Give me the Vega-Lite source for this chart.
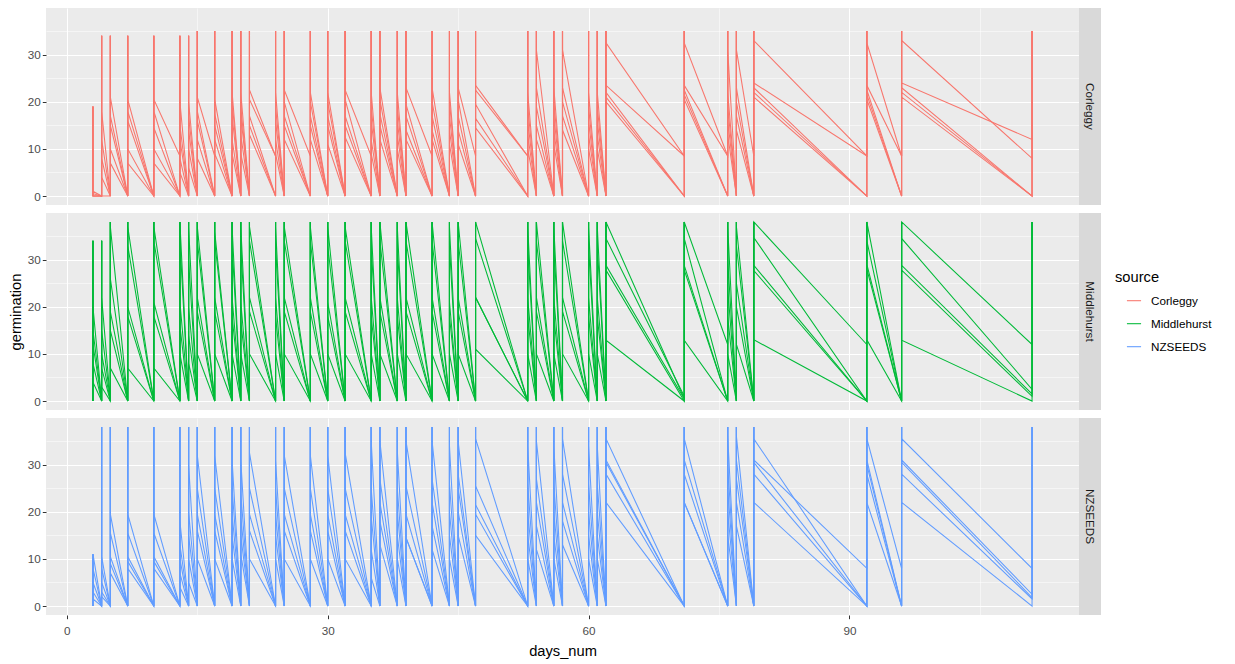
{
"$schema": "https://vega.github.io/schema/vega-lite/v6.json",
"padding": {"left": 8, "top": 8, "right": 5, "bottom": 5},
"config": {
 "font": "Liberation Sans",
 "view": {"fill": "#EBEBEB", "stroke": null},
 "axis": {"domain": false, "gridColor": "#FFFFFF", "tickColor": "#333333", "labelColor": "#4D4D4D", "labelFontSize": 11.7, "titleFontSize": 14.7, "titleFontWeight": "normal", "titleColor": "#000000", "tickSize": 3.7, "labelPadding": 2, "labelFlush": false, "labelOverlap": false},
 "legend": {"orient": "none", "legendX": 1069, "legendY": 262, "titleFontSize": 14.7, "titleFontWeight": "normal", "titleColor": "#000000", "labelFontSize": 11.7, "labelColor": "#000000", "symbolType": "stroke", "symbolStrokeWidth": 1.07, "symbolSize": 200, "symbolOffset": 11, "rowPadding": 8, "labelOffset": 9, "titlePadding": 8}
},
"datasets": {
 "d": [
  {"s":"Corleggy","x":3,"t":19,"g":[1,2,3,4,5],"a":[0,0,0,0,0],"c":[1,0.5,0,0,0]},
  {"s":"Corleggy","x":4,"t":34,"g":[1,2,3,4,5],"a":[0,0,0,0,0],"c":[18,12,8,4,0]},
  {"s":"Corleggy","x":5,"t":34,"g":[1,2,3,4,5],"a":[0,0,0,0,0],"c":[21,17,15,10,7]},
  {"s":"Corleggy","x":7,"t":34,"g":[1,2,3,4,5],"a":[0,0,0,0,0],"c":[20.5,18,16,10,7]},
  {"s":"Corleggy","x":10,"t":34,"g":[1,2,3,4,5],"a":[0,0,0,0,0],"c":[20.5,18,14.5,10,7]},
  {"s":"Corleggy","x":13,"t":34,"g":[1,2,3,4,5],"a":[8.5,0,0,0,0],"c":[20,15,12,8,5]},
  {"s":"Corleggy","x":14,"t":34,"g":[1,2,3,4,5],"a":[0,0,0,0,0],"c":[20,17,14,10,6]},
  {"s":"Corleggy","x":15,"t":35,"g":[1,2,3,4,5],"a":[0,0,0,0,0],"c":[21,18,16,12,8]},
  {"s":"Corleggy","x":17,"t":35,"g":[1,2,3,4,5],"a":[8.5,0,0,0,0],"c":[20.5,17.5,15,12,9]},
  {"s":"Corleggy","x":19,"t":35,"g":[1,2,3,4,5],"a":[0,0,0,0,0],"c":[22,20,17,12,9]},
  {"s":"Corleggy","x":20,"t":35,"g":[1,2,3,4,5],"a":[0,0,0,0,0],"c":[22,19,17,13,9]},
  {"s":"Corleggy","x":21,"t":35,"g":[1,2,3,4,5],"a":[0,0,0,0,0],"c":[22.5,20.5,17,15,13]},
  {"s":"Corleggy","x":24,"t":35,"g":[1,2,3,4,5],"a":[8.5,8.5,0,0,0],"c":[22,19,16,12,9]},
  {"s":"Corleggy","x":25,"t":35,"g":[1,2,3,4,5],"a":[0,0,0,0,0],"c":[22.5,20,17,15,12]},
  {"s":"Corleggy","x":28,"t":35,"g":[1,2,3,4,5],"a":[8.5,0,0,0,0],"c":[22,20,17,15,12]},
  {"s":"Corleggy","x":30,"t":35,"g":[1,2,3,4,5],"a":[0,0,0,0,0],"c":[22,20,17,15,11]},
  {"s":"Corleggy","x":32,"t":35,"g":[1,2,3,4,5],"a":[0,0,0,0,0],"c":[22.5,20.5,17,15,12.5]},
  {"s":"Corleggy","x":35,"t":35,"g":[1,2,3,4,5],"a":[8.5,0,0,0,0],"c":[22,19,16,12,9]},
  {"s":"Corleggy","x":36,"t":35,"g":[1,2,3,4,5],"a":[0,0,0,0,0],"c":[23,20.5,17.5,15,12]},
  {"s":"Corleggy","x":38,"t":35,"g":[1,2,3,4,5],"a":[0,0,0,0,0],"c":[22,19,16,13,10]},
  {"s":"Corleggy","x":39,"t":35,"g":[1,2,3,4,5],"a":[0,0,0,0,0],"c":[23,19.5,17,14,12]},
  {"s":"Corleggy","x":42,"t":35,"g":[1,2,3,4,5],"a":[8.5,0,0,0,0],"c":[23,20,17,14,12]},
  {"s":"Corleggy","x":44,"t":35,"g":[1,2,3,4,5],"a":[0,0,0,0,0],"c":[22,20,17,14,11]},
  {"s":"Corleggy","x":45,"t":35,"g":[1,2,3,4,5],"a":[0,0,0,0,0],"c":[23,20.5,17,14,11]},
  {"s":"Corleggy","x":47,"t":35,"g":[1,2,3,4,5],"a":[8.5,0,0,0,0],"c":[23.5,22.5,19.5,16.5,14.5]},
  {"s":"Corleggy","x":53,"t":35,"g":[1,2,3,4,5],"a":[8.5,8.5,0,0,0],"c":[22,19,16,13,10]},
  {"s":"Corleggy","x":54,"t":35,"g":[1,2,3,4,5],"a":[0,0,0,0,0],"c":[31,23,19,15,12]},
  {"s":"Corleggy","x":56,"t":35,"g":[1,2,3,4,5],"a":[0,0,0,0,0],"c":[23,20,17,14,11]},
  {"s":"Corleggy","x":57,"t":35,"g":[1,2,3,4,5],"a":[0,0,0,0,0],"c":[31,23,20,17,14]},
  {"s":"Corleggy","x":60,"t":35,"g":[1,2,3,4,5],"a":[0,0,0,0,0],"c":[22,19,16,13,10]},
  {"s":"Corleggy","x":61,"t":35,"g":[1,2,3,4,5],"a":[0,0,0,0,0],"c":[22,19,16,13,10]},
  {"s":"Corleggy","x":62,"t":35,"g":[1,2,3,4,5],"a":[0,0,0,0,0],"c":[32.5,23.5,22,21,20]},
  {"s":"Corleggy","x":71,"t":35,"g":[1,2,3,4,5],"a":[8.5,8.5,0,0,0],"c":[32.5,23.5,22.5,21.5,20.5]},
  {"s":"Corleggy","x":76,"t":35,"g":[1,2,3,4,5],"a":[8.5,8.5,0,0,0],"c":[31,22,19,16,13]},
  {"s":"Corleggy","x":77,"t":35,"g":[1,2,3,4,5],"a":[0,0,0,0,0],"c":[31,23,20,17,14]},
  {"s":"Corleggy","x":79,"t":35,"g":[1,2,3,4,5],"a":[8.5,0,0,0,0],"c":[33,24,23,22,21]},
  {"s":"Corleggy","x":92,"t":35,"g":[1,2,3,4,5],"a":[8.5,8.5,0,0,0],"c":[32.5,23.5,22.5,21.5,20.5]},
  {"s":"Corleggy","x":96,"t":35,"g":[1,2,3,4,5],"a":[8.5,8.5,0,0,0],"c":[33,24,23,22,21]},
  {"s":"Corleggy","x":111,"t":35,"g":[1,2,3,4,5],"a":[8,12,0,0,0],"c":[8,12,0,0,0]},

  {"s":"Middlehurst","x":3,"t":34,"g":[1,2,3,4,5],"a":[0,0,0,0,0],"c":[20,15,12,8,4]},
  {"s":"Middlehurst","x":4,"t":34,"g":[1,2,3,4,5],"a":[0,0,0,0,0],"c":[22,15,10,7,3]},
  {"s":"Middlehurst","x":5,"t":38,"g":[1,2,3,4,5],"a":[0,0,0,0,0],"c":[37,26,19,15,7]},
  {"s":"Middlehurst","x":7,"t":38,"g":[1,2,3,4,5],"a":[0,0,0,0,0],"c":[37,33,20,18,7]},
  {"s":"Middlehurst","x":10,"t":38,"g":[1,2,3,4,5],"a":[0,0,0,0,0],"c":[37,34,21,18,7]},
  {"s":"Middlehurst","x":13,"t":38,"g":[1,2,3,4,5],"a":[0,0,0,0,0],"c":[38,34,21,16,10]},
  {"s":"Middlehurst","x":14,"t":38,"g":[1,2,3,4,5],"a":[0,0,0,0,0],"c":[37,30,20,14,8]},
  {"s":"Middlehurst","x":15,"t":38,"g":[1,2,3,4,5],"a":[0,0,0,0,0],"c":[37,34,22,19,10]},
  {"s":"Middlehurst","x":17,"t":38,"g":[1,2,3,4,5],"a":[0,0,0,0,0],"c":[36,34,22,19,10]},
  {"s":"Middlehurst","x":19,"t":38,"g":[1,2,3,4,5],"a":[0,0,0,0,0],"c":[37,33,22,18,10]},
  {"s":"Middlehurst","x":20,"t":38,"g":[1,2,3,4,5],"a":[0,0,0,0,0],"c":[37,33,21,17,10]},
  {"s":"Middlehurst","x":21,"t":38,"g":[1,2,3,4,5],"a":[0,0,0,0,0],"c":[37,34,22,19,10]},
  {"s":"Middlehurst","x":24,"t":38,"g":[1,2,3,4,5],"a":[0,0,0,0,0],"c":[37,33,22,18,10]},
  {"s":"Middlehurst","x":25,"t":38,"g":[1,2,3,4,5],"a":[0,0,0,0,0],"c":[37,34,22,19,10]},
  {"s":"Middlehurst","x":28,"t":38,"g":[1,2,3,4,5],"a":[0,0,0,0,0],"c":[37,34,22,19,10]},
  {"s":"Middlehurst","x":30,"t":38,"g":[1,2,3,4,5],"a":[0,0,0,0,0],"c":[37,33,21,18,10]},
  {"s":"Middlehurst","x":32,"t":38,"g":[1,2,3,4,5],"a":[0,0,0,0,0],"c":[37,34,22,19,10]},
  {"s":"Middlehurst","x":35,"t":38,"g":[1,2,3,4,5],"a":[0,0,0,0,0],"c":[37,33,22,18,10]},
  {"s":"Middlehurst","x":36,"t":38,"g":[1,2,3,4,5],"a":[0,0,0,0,0],"c":[38,34,22,19,10]},
  {"s":"Middlehurst","x":38,"t":38,"g":[1,2,3,4,5],"a":[0,0,0,0,0],"c":[37,33,22,18,10]},
  {"s":"Middlehurst","x":39,"t":38,"g":[1,2,3,4,5],"a":[0,0,0,0,0],"c":[38,34,22,19,10]},
  {"s":"Middlehurst","x":42,"t":38,"g":[1,2,3,4,5],"a":[0,0,0,0,0],"c":[38,34,22,19,10]},
  {"s":"Middlehurst","x":44,"t":38,"g":[1,2,3,4,5],"a":[0,0,0,0,0],"c":[37,33,21,18,10]},
  {"s":"Middlehurst","x":45,"t":38,"g":[1,2,3,4,5],"a":[0,0,0,0,0],"c":[38,34,22,19,10]},
  {"s":"Middlehurst","x":47,"t":38,"g":[1,2,3,4,5],"a":[0,0,0,0,0],"c":[38,34.5,22,22,11]},
  {"s":"Middlehurst","x":53,"t":38,"g":[1,2,3,4,5],"a":[0,0,0,0,0],"c":[37,33,22,18,10]},
  {"s":"Middlehurst","x":54,"t":38,"g":[1,2,3,4,5],"a":[0,0,0,0,0],"c":[38,34,22,19,10]},
  {"s":"Middlehurst","x":56,"t":38,"g":[1,2,3,4,5],"a":[0,0,0,0,0],"c":[37,33,22,18,10]},
  {"s":"Middlehurst","x":57,"t":38,"g":[1,2,3,4,5],"a":[0,0,0,0,0],"c":[38,34,22,19,10]},
  {"s":"Middlehurst","x":60,"t":38,"g":[1,2,3,4,5],"a":[0,0,0,0,0],"c":[37,33,22,18,10]},
  {"s":"Middlehurst","x":61,"t":38,"g":[1,2,3,4,5],"a":[0,0,0,0,0],"c":[37,33,22,18,10]},
  {"s":"Middlehurst","x":62,"t":38,"g":[1,2,3,4,5],"a":[0,0,0,0,0],"c":[38,34.5,28.8,27.8,12.9]},
  {"s":"Middlehurst","x":71,"t":38,"g":[1,2,3,4,5],"a":[0.5,1,0.5,0,0],"c":[38,34.5,28.8,27.8,12.9]},
  {"s":"Middlehurst","x":76,"t":38,"g":[1,2,3,4,5],"a":[12,0,0,0,0],"c":[37,30,24,18,10]},
  {"s":"Middlehurst","x":77,"t":38,"g":[1,2,3,4,5],"a":[0,0,0,0,0],"c":[37,33,25,20,12]},
  {"s":"Middlehurst","x":79,"t":38,"g":[1,2,3,4,5],"a":[0,0,0,0,0],"c":[38,34.7,28.8,27.7,13]},
  {"s":"Middlehurst","x":92,"t":38,"g":[1,2,3,4,5],"a":[12,0,0,0,0],"c":[38,34,29,28,13]},
  {"s":"Middlehurst","x":96,"t":38,"g":[1,2,3,4,5],"a":[0,0,0,0,0],"c":[38,34.5,28.8,27.8,12.9]},
  {"s":"Middlehurst","x":111,"t":38,"g":[1,2,3,4,5],"a":[12,2.5,1.5,1,0],"c":[12,2.5,1.5,1,0]},

  {"s":"NZSEEDS","x":3,"t":11,"g":[1,2,3,4,5],"a":[0,0,0,0,0],"c":[11,8,5,3,1.5]},
  {"s":"NZSEEDS","x":4,"t":38,"g":[1,2,3,4,5],"a":[0,0,0,0,0],"c":[10.5,8,5,3,2]},
  {"s":"NZSEEDS","x":5,"t":38,"g":[1,2,3,4,5],"a":[0,0,0,0,0],"c":[19.5,15.5,10.5,9,7]},
  {"s":"NZSEEDS","x":7,"t":38,"g":[1,2,3,4,5],"a":[0,0,0,0,0],"c":[19.5,15.5,10.5,9.5,8]},
  {"s":"NZSEEDS","x":10,"t":38,"g":[1,2,3,4,5],"a":[0,0,0,0,0],"c":[19.5,15.5,10.5,9.5,8]},
  {"s":"NZSEEDS","x":13,"t":38,"g":[1,2,3,4,5],"a":[0,0,0,0,0],"c":[18,13,10,7,4]},
  {"s":"NZSEEDS","x":14,"t":38,"g":[1,2,3,4,5],"a":[0,0,0,0,0],"c":[30,20,15,10,5]},
  {"s":"NZSEEDS","x":15,"t":38,"g":[1,2,3,4,5],"a":[0,0,0,0,0],"c":[32,25,19.5,16,10]},
  {"s":"NZSEEDS","x":17,"t":38,"g":[1,2,3,4,5],"a":[0,0,0,0,0],"c":[32,25,19.5,16,10]},
  {"s":"NZSEEDS","x":19,"t":38,"g":[1,2,3,4,5],"a":[0,0,0,0,0],"c":[31,25,19.5,15,10]},
  {"s":"NZSEEDS","x":20,"t":38,"g":[1,2,3,4,5],"a":[0,0,0,0,0],"c":[31,24,19,15,11]},
  {"s":"NZSEEDS","x":21,"t":38,"g":[1,2,3,4,5],"a":[0,0,0,0,0],"c":[32.5,25,19.5,16,10]},
  {"s":"NZSEEDS","x":24,"t":38,"g":[1,2,3,4,5],"a":[0,0,0,0,0],"c":[31,25,19.5,15,10]},
  {"s":"NZSEEDS","x":25,"t":38,"g":[1,2,3,4,5],"a":[0,0,0,0,0],"c":[32,25,19.5,16,10]},
  {"s":"NZSEEDS","x":28,"t":38,"g":[1,2,3,4,5],"a":[0,0,0,0,0],"c":[32,25,19.5,16,10]},
  {"s":"NZSEEDS","x":30,"t":38,"g":[1,2,3,4,5],"a":[0,0,0,0,0],"c":[32,25,19.5,16,10]},
  {"s":"NZSEEDS","x":32,"t":38,"g":[1,2,3,4,5],"a":[0,0,0,0,0],"c":[32.5,25,19.5,16,10]},
  {"s":"NZSEEDS","x":35,"t":38,"g":[1,2,3,4,5],"a":[0,0,0,0,0],"c":[35,25,19,12,6]},
  {"s":"NZSEEDS","x":36,"t":38,"g":[1,2,3,4,5],"a":[0,0,0,0,0],"c":[35,27,22,18,13]},
  {"s":"NZSEEDS","x":38,"t":38,"g":[1,2,3,4,5],"a":[0,0,0,0,0],"c":[33,25,20,15,10]},
  {"s":"NZSEEDS","x":39,"t":38,"g":[1,2,3,4,5],"a":[0,0,0,0,0],"c":[35,25.5,19.5,14.5,14.5]},
  {"s":"NZSEEDS","x":42,"t":38,"g":[1,2,3,4,5],"a":[0,0,0,0,0],"c":[35,27,22,17,12]},
  {"s":"NZSEEDS","x":44,"t":38,"g":[1,2,3,4,5],"a":[0,0,0,0,0],"c":[34,26,20,15,10]},
  {"s":"NZSEEDS","x":45,"t":38,"g":[1,2,3,4,5],"a":[0,0,0,0,0],"c":[35,28,25,20,15]},
  {"s":"NZSEEDS","x":47,"t":38,"g":[1,2,3,4,5],"a":[0,0,0,0,0],"c":[35.5,25.5,21.5,19.5,15]},
  {"s":"NZSEEDS","x":53,"t":38,"g":[1,2,3,4,5],"a":[0,0,0,0,0],"c":[34,26,20,15,10]},
  {"s":"NZSEEDS","x":54,"t":38,"g":[1,2,3,4,5],"a":[0,0,0,0,0],"c":[35,27,22,17,12]},
  {"s":"NZSEEDS","x":56,"t":38,"g":[1,2,3,4,5],"a":[0,0,0,0,0],"c":[34,26,20,15,10]},
  {"s":"NZSEEDS","x":57,"t":38,"g":[1,2,3,4,5],"a":[0,0,0,0,0],"c":[35.5,28,22,18,13]},
  {"s":"NZSEEDS","x":60,"t":38,"g":[1,2,3,4,5],"a":[0,0,0,0,0],"c":[34,26,20,15,10]},
  {"s":"NZSEEDS","x":61,"t":38,"g":[1,2,3,4,5],"a":[0,0,0,0,0],"c":[34,26,20,15,10]},
  {"s":"NZSEEDS","x":62,"t":38,"g":[1,2,3,4,5],"a":[0,0,0,0,0],"c":[35.5,31,30.5,28,22]},
  {"s":"NZSEEDS","x":71,"t":38,"g":[1,2,3,4,5],"a":[0,0,0,0,0],"c":[35.5,31,28,22,22]},
  {"s":"NZSEEDS","x":76,"t":38,"g":[1,2,3,4,5],"a":[0,0,0,0,0],"c":[36,30,25,20,15]},
  {"s":"NZSEEDS","x":77,"t":38,"g":[1,2,3,4,5],"a":[0,0,0,0,0],"c":[36,31,27,22,17]},
  {"s":"NZSEEDS","x":79,"t":38,"g":[1,2,3,4,5],"a":[0,0,0,0,0],"c":[35.5,31,30.5,28,22]},
  {"s":"NZSEEDS","x":92,"t":38,"g":[1,2,3,4,5],"a":[0,8,0,0,0],"c":[35.5,31,30,28,22]},
  {"s":"NZSEEDS","x":96,"t":38,"g":[1,2,3,4,5],"a":[8,0,0,0,0],"c":[35.5,31,30.5,28,22]},
  {"s":"NZSEEDS","x":111,"t":38,"g":[1,2,3,4,5],"a":[8,2.5,1.8,1.5,0],"c":[8,2.5,1.8,1.5,0]}
 ]
},
"spacing": 8,
"vconcat": [
 {"spacing": 0, "hconcat": [
  {"width": 1033, "height": 197, "data": {"name": "d"},
   "transform": [{"filter": "datum.s == 'Corleggy'"}, {"flatten": ["g","a","c"]}, {"fold": ["a","t","c"], "as": ["k","v"]}],
   "mark": {"type": "line", "strokeWidth": 1.07},
   "encoding": {
    "x": {"field": "x", "type": "quantitative", "scale": {"domain": [-2.4, 116.4], "nice": false, "zero": false},
     "axis": {"values": [0,15,30,45,60,75,90,105], "labels": false, "ticks": false, "title": null, "gridWidth": {"condition": {"test": "datum.value % 30 == 0", "value": 1.07}, "value": 0.53}}},
    "y": {"field": "v", "type": "quantitative", "scale": {"domain": [-1.9, 39.9], "nice": false, "zero": false},
     "axis": {"values": [0,5,10,15,20,25,30,35], "title": null, "labelExpr": "datum.value % 10 == 0 ? datum.label : ''", "tickOpacity": {"condition": {"test": "datum.value % 10 == 0", "value": 1}, "value": 0}, "gridWidth": {"condition": {"test": "datum.value % 10 == 0", "value": 1.07}, "value": 0.53}}},
    "detail": {"field": "g", "type": "nominal"},
    "color": {"field": "s", "type": "nominal", "scale": {"domain": ["Corleggy","Middlehurst","NZSEEDS"], "range": ["#F8766D","#00BA38","#619CFF"]}, "title": "source"}
   }},
  {"width": 22, "height": 197, "view": {"fill": "#D9D9D9", "stroke": null},
   "data": {"values": [{"lab": "Corleggy"}]},
   "mark": {"type": "text", "angle": 90, "fontSize": 11.7, "color": "#1A1A1A", "font": "Liberation Sans"},
   "encoding": {"text": {"field": "lab", "type": "nominal"}}}
 ]},
 {"spacing": 0, "hconcat": [
  {"width": 1033, "height": 197, "data": {"name": "d"},
   "transform": [{"filter": "datum.s == 'Middlehurst'"}, {"flatten": ["g","a","c"]}, {"fold": ["a","t","c"], "as": ["k","v"]}],
   "mark": {"type": "line", "strokeWidth": 1.07},
   "encoding": {
    "x": {"field": "x", "type": "quantitative", "scale": {"domain": [-2.4, 116.4], "nice": false, "zero": false},
     "axis": {"values": [0,15,30,45,60,75,90,105], "labels": false, "ticks": false, "title": null, "gridWidth": {"condition": {"test": "datum.value % 30 == 0", "value": 1.07}, "value": 0.53}}},
    "y": {"field": "v", "type": "quantitative", "scale": {"domain": [-1.9, 39.9], "nice": false, "zero": false},
     "axis": {"values": [0,5,10,15,20,25,30,35], "title": "germination", "titlePadding": 4, "labelExpr": "datum.value % 10 == 0 ? datum.label : ''", "tickOpacity": {"condition": {"test": "datum.value % 10 == 0", "value": 1}, "value": 0}, "gridWidth": {"condition": {"test": "datum.value % 10 == 0", "value": 1.07}, "value": 0.53}}},
    "detail": {"field": "g", "type": "nominal"},
    "color": {"field": "s", "type": "nominal", "scale": {"domain": ["Corleggy","Middlehurst","NZSEEDS"], "range": ["#F8766D","#00BA38","#619CFF"]}, "title": "source"}
   }},
  {"width": 22, "height": 197, "view": {"fill": "#D9D9D9", "stroke": null},
   "data": {"values": [{"lab": "Middlehurst"}]},
   "mark": {"type": "text", "angle": 90, "fontSize": 11.7, "color": "#1A1A1A", "font": "Liberation Sans"},
   "encoding": {"text": {"field": "lab", "type": "nominal"}}}
 ]},
 {"spacing": 0, "hconcat": [
  {"width": 1033, "height": 197, "data": {"name": "d"},
   "transform": [{"filter": "datum.s == 'NZSEEDS'"}, {"flatten": ["g","a","c"]}, {"fold": ["a","t","c"], "as": ["k","v"]}],
   "mark": {"type": "line", "strokeWidth": 1.07},
   "encoding": {
    "x": {"field": "x", "type": "quantitative", "scale": {"domain": [-2.4, 116.4], "nice": false, "zero": false},
     "axis": {"values": [0,15,30,45,60,75,90,105], "title": "days_num", "labelPadding": 7, "titlePadding": 6, "labelExpr": "datum.value % 30 == 0 ? datum.label : ''", "tickOpacity": {"condition": {"test": "datum.value % 30 == 0", "value": 1}, "value": 0}, "gridWidth": {"condition": {"test": "datum.value % 30 == 0", "value": 1.07}, "value": 0.53}}},
    "y": {"field": "v", "type": "quantitative", "scale": {"domain": [-1.9, 39.9], "nice": false, "zero": false},
     "axis": {"values": [0,5,10,15,20,25,30,35], "title": null, "labelExpr": "datum.value % 10 == 0 ? datum.label : ''", "tickOpacity": {"condition": {"test": "datum.value % 10 == 0", "value": 1}, "value": 0}, "gridWidth": {"condition": {"test": "datum.value % 10 == 0", "value": 1.07}, "value": 0.53}}},
    "detail": {"field": "g", "type": "nominal"},
    "color": {"field": "s", "type": "nominal", "scale": {"domain": ["Corleggy","Middlehurst","NZSEEDS"], "range": ["#F8766D","#00BA38","#619CFF"]}, "title": "source"}
   }},
  {"width": 22, "height": 197, "view": {"fill": "#D9D9D9", "stroke": null},
   "data": {"values": [{"lab": "NZSEEDS"}]},
   "mark": {"type": "text", "angle": 90, "fontSize": 11.7, "color": "#1A1A1A", "font": "Liberation Sans"},
   "encoding": {"text": {"field": "lab", "type": "nominal"}}}
 ]}
]
}
